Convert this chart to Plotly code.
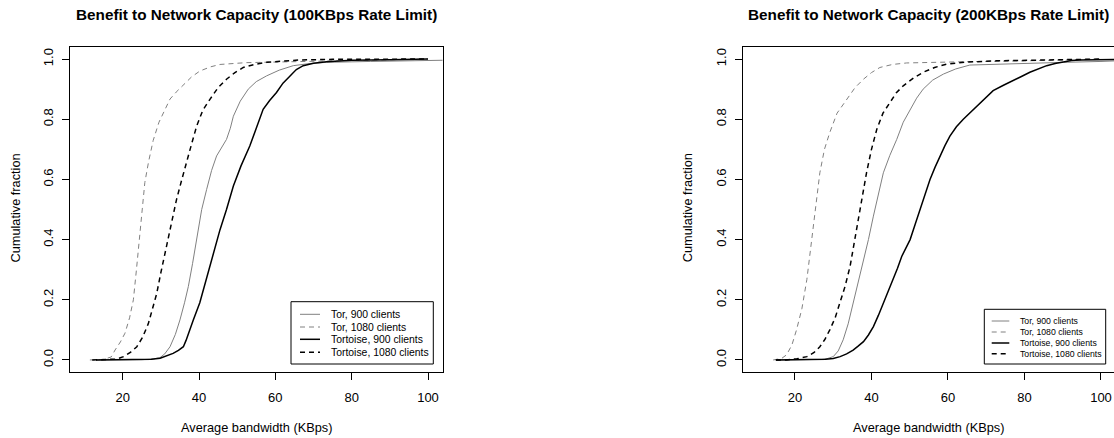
import plotly.graph_objects as go

# ---------------- data ----------------
series_names = ["Tor, 900 clients", "Tor, 1080 clients",
                "Tortoise, 900 clients", "Tortoise, 1080 clients"]

# Panel 1: 100KBps rate limit
p1_tor900_x = [13, 20, 25, 28, 29.8, 31, 32.4, 33.8, 35, 36.2, 37.2, 38.3, 39.4, 40.7, 42, 43.3,
               44.6, 46, 47.2, 48.2, 49, 50.8, 52.9, 55, 57.7, 61, 64.7, 69, 73.4, 85, 100, 104]
p1_tor900_y = [0, 0, 0.001, 0.003, 0.008, 0.02, 0.044, 0.085, 0.133, 0.19, 0.244, 0.32, 0.4, 0.5,
               0.567, 0.63, 0.678, 0.71, 0.733, 0.77, 0.81, 0.86, 0.9, 0.925, 0.944, 0.963, 0.978,
               0.985, 0.989, 0.992, 0.994, 0.996]

p1_tor1080_x = [11.4, 15, 17, 18, 19.4, 20.6, 21.8, 22.8, 23.6, 24.3, 25.0, 25.8, 26.8, 28, 29.5,
                31, 32.4, 34, 35.9, 38, 40.2, 43, 45.5, 49, 52.3, 60, 80, 100]
p1_tor1080_y = [0, 0.002, 0.01, 0.033, 0.06, 0.089, 0.14, 0.2, 0.3, 0.4, 0.5, 0.59, 0.66, 0.73,
                0.79, 0.83, 0.867, 0.89, 0.915, 0.94, 0.96, 0.974, 0.982, 0.986, 0.988, 0.99,
                0.995, 1.0]

p1_tortoise900_x = [13, 20, 25, 27.5, 29.8, 31.5, 33.2, 34.6, 35.9, 36.6, 37.2, 38.5, 40.2, 41.5,
                    42.9, 44.2, 45.5, 47.2, 49, 51, 53.3, 55, 56.8, 58.5, 60.3, 62, 63.8, 65.5,
                    67.3, 70, 73.4, 80, 90, 100]
p1_tortoise900_y = [0, 0, 0.0005, 0.002, 0.006, 0.013, 0.022, 0.032, 0.044, 0.065, 0.089, 0.133,
                    0.19, 0.25, 0.311, 0.372, 0.433, 0.5, 0.578, 0.645, 0.711, 0.77, 0.833, 0.862,
                    0.889, 0.92, 0.944, 0.965, 0.978, 0.986, 0.991, 0.996, 0.998, 1.0]

p1_tortoise1080_x = [12, 16.7, 18.5, 20.2, 22, 23.7, 25.2, 26.7, 27.8, 28.9, 30, 31.1, 32.6, 34.1,
                     35.5, 36.8, 38.1, 39.4, 41, 42.9, 45, 47.2, 49.4, 51.6, 54.5, 57.7, 62, 66.4,
                     75, 100]
p1_tortoise1080_y = [0, 0.001, 0.003, 0.011, 0.025, 0.044, 0.075, 0.12, 0.17, 0.22, 0.29, 0.356,
                     0.445, 0.533, 0.6, 0.656, 0.72, 0.778, 0.83, 0.867, 0.905, 0.933, 0.955,
                     0.972, 0.982, 0.989, 0.994, 0.997, 0.999, 1.0]

# Panel 2: 200KBps rate limit
p2_tor900_x = [15, 22, 27, 28.3, 30, 31.3, 32.6, 33.9, 35.2, 36.5, 37.9, 39.2, 40.5, 41.8, 43.1,
               44.8, 46.6, 48.3, 50.1, 51.8, 53.5, 56, 58.8, 62, 65.7, 72.7, 80, 90.2, 100, 104]
p2_tor900_y = [0, 0, 0.002, 0.004, 0.011, 0.03, 0.067, 0.12, 0.189, 0.255, 0.322, 0.4, 0.478,
               0.55, 0.622, 0.68, 0.733, 0.79, 0.833, 0.87, 0.9, 0.93, 0.95, 0.967, 0.98, 0.983,
               0.986, 0.989, 0.992, 0.994]

p2_tor1080_x = [14.3, 16.5, 17.8, 19.2, 20.4, 21.8, 23.1, 24, 24.8, 25.7, 26.5, 27.7, 29.1, 31,
                33.5, 35.7, 37.9, 40, 42.2, 45.5, 49.2, 55, 64, 80, 90.2, 100]
p2_tor1080_y = [0, 0.005, 0.017, 0.05, 0.1, 0.17, 0.267, 0.36, 0.444, 0.53, 0.622, 0.7, 0.756,
                0.82, 0.867, 0.905, 0.933, 0.955, 0.972, 0.982, 0.987, 0.989, 0.991, 0.994,
                0.997, 1.0]

p2_tortoise900_x = [15, 22, 28, 30, 31.8, 33.5, 35.2, 36.5, 37.9, 39.2, 40.5, 41.8, 43.1, 44.4,
                    45.7, 46.8, 47.9, 49, 50.1, 51.4, 52.7, 54, 55.3, 56.6, 57.9, 59.2, 60.5,
                    62.2, 64, 65.8, 67.5, 69.6, 71.8, 74.5, 77.1, 79.2, 81.4, 83.6, 85.8, 88,
                    90.1, 92.3, 94.5, 100, 104]
p2_tortoise900_y = [0, 0, 0.002, 0.005, 0.011, 0.02, 0.033, 0.046, 0.061, 0.083, 0.111, 0.148,
                    0.189, 0.228, 0.267, 0.305, 0.344, 0.372, 0.4, 0.45, 0.5, 0.55, 0.6, 0.64,
                    0.678, 0.712, 0.744, 0.775, 0.8, 0.822, 0.844, 0.87, 0.895, 0.913, 0.928,
                    0.942, 0.956, 0.968, 0.978, 0.985, 0.991, 0.995, 0.997, 0.998, 0.999]

p2_tortoise1080_x = [15, 17.8, 20.5, 23.1, 25, 26.5, 27.8, 29.1, 30.5, 31.8, 33.1, 34.4, 35.5,
                     36.5, 37.6, 38.7, 40, 41.4, 43, 44.8, 46.5, 48.3, 51, 53.5, 56.5, 59.6, 65,
                     72.7, 85.8, 100]
p2_tortoise1080_y = [0, 0, 0.004, 0.011, 0.025, 0.044, 0.068, 0.1, 0.14, 0.189, 0.245, 0.311,
                     0.39, 0.467, 0.545, 0.622, 0.7, 0.767, 0.82, 0.856, 0.888, 0.911, 0.937,
                     0.956, 0.972, 0.983, 0.99, 0.994, 0.998, 1.0]

panel_titles = ["Benefit to Network Capacity (100KBps Rate Limit)",
                "Benefit to Network Capacity (200KBps Rate Limit)"]
x_title = "Average bandwidth (KBps)"
y_title = "Cumulative fraction"
x_ticks = [20, 40, 60, 80, 100]
y_ticks = [0.0, 0.2, 0.4, 0.6, 0.8, 1.0]
y_ticklabels = ["0.0", "0.2", "0.4", "0.6", "0.8", "1.0"]

# ---------------- styling ----------------
W, H = 1114, 438
FONT = "Liberation Sans, Arial, Helvetica, sans-serif"
GRAY = "#808080"
styles = [
    dict(color=GRAY, width=1.0, dash="solid"),
    dict(color=GRAY, width=1.0, dash="5px,4px"),
    dict(color="black", width=1.5, dash="solid"),
    dict(color="black", width=1.5, dash="5px,4px"),
]

def px_x(p):
    return p / W

def px_y(p):
    return 1 - p / H

panels = [
    dict(data=[(p1_tor900_x, p1_tor900_y), (p1_tor1080_x, p1_tor1080_y),
               (p1_tortoise900_x, p1_tortoise900_y), (p1_tortoise1080_x, p1_tortoise1080_y)],
         box=(70, 442.5), xrange=[6.19, 103.8], mirror_y=True,
         legend=dict(box=(291, 301.7, 433.3, 364), rows=[314.3, 327, 339.3, 352.3],
                     sx=(300, 320), tx=328.7, size=10.4)),
    dict(data=[(p2_tor900_x, p2_tor900_y), (p2_tor1080_x, p2_tor1080_y),
               (p2_tortoise900_x, p2_tortoise900_y), (p2_tortoise1080_x, p2_tortoise1080_y)],
         box=(742.7, 1114), xrange=[6.33, 103.4], mirror_y=False,
         legend=dict(box=(984.3, 309.3, 1105.7, 364), rows=[321, 332, 343, 353.7],
                     sx=(991.7, 1009.3), tx=1018, size=8.7)),
]

TOP, BOTTOM = 47, 372
fig = go.Figure()
shapes = []
annotations = []

for i, pan in enumerate(panels):
    sfx = "" if i == 0 else str(i + 1)
    for (xs, ys), name, st in zip(pan["data"], series_names, styles):
        fig.add_trace(go.Scatter(x=xs, y=ys, mode="lines", name=name, showlegend=False,
                                 line=dict(color=st["color"], width=st["width"], dash=st["dash"]),
                                 xaxis="x" + sfx, yaxis="y" + sfx, hoverinfo="skip"))
    x0, x1 = pan["box"]
    axis_common = dict(showgrid=False, zeroline=False, showline=True, linecolor="black",
                       linewidth=1, ticks="outside", ticklen=7, tickwidth=1, tickcolor="black",
                       tickfont=dict(family=FONT, size=13, color="black"))
    fig.layout["xaxis" + sfx] = dict(
        axis_common, domain=[px_x(x0), min(1.0, px_x(x1))], range=pan["xrange"],
        tickvals=x_ticks, mirror=True, anchor="y" + sfx, ticklabelstandoff=6)
    fig.layout["yaxis" + sfx] = dict(
        axis_common, domain=[px_y(BOTTOM), px_y(TOP)], range=[-0.04, 1.04],
        tickvals=y_ticks, ticktext=y_ticklabels, tickangle=-90, mirror=pan["mirror_y"],
        anchor="x" + sfx, ticklabelstandoff=4)

    cx = (x0 + (x0 + 372.5)) / 2
    annotations.append(dict(text="<b>" + panel_titles[i] + "</b>", x=px_x(cx), y=px_y(14),
                            xref="paper", yref="paper", showarrow=False, xanchor="center",
                            yanchor="middle", font=dict(family=FONT, size=15.3, color="black")))
    annotations.append(dict(text=x_title, x=px_x(cx), y=px_y(427.5), xref="paper", yref="paper",
                            showarrow=False, xanchor="center", yanchor="middle",
                            font=dict(family=FONT, size=12.75, color="black")))
    annotations.append(dict(text=y_title, x=px_x(x0 - 55.5), y=px_y(208), xref="paper",
                            yref="paper", showarrow=False, xanchor="center", yanchor="middle",
                            textangle=-90, font=dict(family=FONT, size=12.75, color="black")))

    lg = pan["legend"]
    bx0, by0, bx1, by1 = lg["box"]
    shapes.append(dict(type="rect", xref="paper", yref="paper", x0=px_x(bx0), x1=px_x(bx1),
                       y0=px_y(by1), y1=px_y(by0), line=dict(color="black", width=1),
                       fillcolor="white", layer="above"))
    for ry, name, st in zip(lg["rows"], series_names, styles):
        shapes.append(dict(type="line", xref="paper", yref="paper", x0=px_x(lg["sx"][0]),
                           x1=px_x(lg["sx"][1]), y0=px_y(ry), y1=px_y(ry), layer="above",
                           line=dict(color=st["color"], width=st["width"], dash=st["dash"])))
        annotations.append(dict(text=name, x=px_x(lg["tx"]), y=px_y(ry), xref="paper",
                                yref="paper", showarrow=False, xanchor="left", yanchor="middle",
                                font=dict(family=FONT, size=lg["size"], color="black")))

fig.update_layout(width=W, height=H, margin=dict(l=0, r=0, t=0, b=0, autoexpand=False),
                  paper_bgcolor="white", plot_bgcolor="white", showlegend=False,
                  shapes=shapes, annotations=annotations)

fig.write_html("out.html", config={"displayModeBar": False},
               post_script="document.body.style.margin='0px';"
                           "document.body.style.overflow='hidden';")
